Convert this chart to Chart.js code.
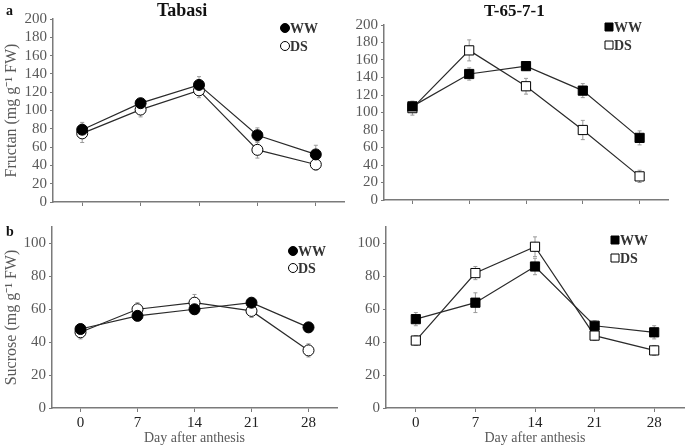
<!DOCTYPE html>
<html>
<head>
<meta charset="utf-8">
<script src="https://cdn.jsdelivr.net/npm/chart.js@4"></script>
<style>
  body { margin: 0; background: #fff; }
  #wrap { position: relative; width: 685px; height: 447px; font-family: "Liberation Serif", serif; }
  canvas { position: absolute; }
  .lbl { position: absolute; font-weight: bold; color: #111; }
</style>
</head>
<body>
<div id="wrap">
  <canvas id="chart__fru-tabasi" style="left:0;top:0" width="345" height="215"></canvas>
  <canvas id="chart__fru-t65" style="left:340px;top:0" width="345" height="215"></canvas>
  <canvas id="chart__suc-tabasi" style="left:0;top:215px" width="345" height="232"></canvas>
  <canvas id="chart__suc-t65" style="left:340px;top:215px" width="345" height="232"></canvas>
  <div class="lbl" style="left:6px;top:3px;font-size:14px">a</div>
  <div class="lbl" style="left:6px;top:224px;font-size:14px">b</div>
  <div class="lbl" style="left:157px;top:0;font-size:18px">Tabasi</div>
  <div class="lbl" style="left:484px;top:1px;font-size:17px">T-65-7-1</div>
</div>
<script>
const days = ["0", "7", "14", "21", "28"];
const fructanTicks = [0, 20, 40, 60, 80, 100, 120, 140, 160, 180, 200];
const sucroseTicks = [0, 20, 40, 60, 80, 100];

// Tabasi fructan
const fruTabWW = [79, 108, 128, 73, 52];
const fruTabWWErr = [8, 5, 9, 8, 10];
const fruTabDS = [75, 101, 122, 57, 41];
const fruTabDSErr = [10, 8, 8, 9, 6];

// T-65-7-1 fructan
const fruT65WW = [107, 144, 153, 125, 71];
const fruT65WWErr = [5, 7, 5, 8, 8];
const fruT65DS = [105, 171, 130, 80, 27];
const fruT65DSErr = [8, 12, 9, 11, 7];

// Tabasi sucrose
const sucTabWW = [48, 56, 60, 64, 49];
const sucTabWWErr = [3, 3, 3, 3, 3];
const sucTabDS = [46, 60, 64, 59, 35];
const sucTabDSErr = [4, 4, 5, 4, 4];

// T-65-7-1 sucrose
const sucT65WW = [54, 64, 86, 50, 46];
const sucT65WWErr = [4, 6, 5, 3, 4];
const sucT65DS = [41, 82, 98, 44, 35];
const sucT65DSErr = [3, 4, 6, 3, 3];

const serif = "'Liberation Serif', 'Times New Roman', serif";
const axisGray = "#7a7a7a";
const textGray = "#595959";

// vertical error bars, drawn under the markers
const errorBars = {
  id: "errorBars",
  beforeDatasetsDraw(chart) {
    const { ctx, scales } = chart;
    ctx.save();
    ctx.strokeStyle = "#9a9a9a";
    ctx.lineWidth = 1;
    chart.data.datasets.forEach((ds) => {
      ds.data.forEach((v, i) => {
        const x = scales.x.getPixelForValue(i);
        const top = scales.y.getPixelForValue(v + ds.err[i]);
        const bot = scales.y.getPixelForValue(v - ds.err[i]);
        ctx.beginPath();
        ctx.moveTo(x, top);
        ctx.lineTo(x, bot);
        ctx.moveTo(x - 2, top);
        ctx.lineTo(x + 2, top);
        ctx.moveTo(x - 2, bot);
        ctx.lineTo(x + 2, bot);
        ctx.stroke();
      });
    });
    ctx.restore();
  },
};

// small legend inside the plot
const boxLegend = {
  id: "boxLegend",
  afterDraw(chart, args, opts) {
    const { ctx } = chart;
    ctx.save();
    chart.data.datasets.forEach((ds, i) => {
      const x = opts.x;
      const y = opts.y + i * opts.gap;
      ctx.fillStyle = ds.pointBackgroundColor;
      ctx.strokeStyle = "#000";
      ctx.lineWidth = 1;
      ctx.beginPath();
      if (ds.pointStyle === "rect") {
        ctx.rect(x - 4, y - 4, 8, 8);
      } else {
        ctx.arc(x, y, 4.5, 0, Math.PI * 2);
      }
      ctx.fill();
      ctx.stroke();
      ctx.fillStyle = "#333";
      ctx.font = "bold 14px " + serif;
      ctx.textBaseline = "middle";
      ctx.fillText(ds.label, x + 5, y + 1);
    });
    ctx.restore();
  },
};

function makePanel(el, cfg) {
  const mk = (label, data, err, fill) => ({
    label: label,
    data: data,
    err: err,
    borderColor: "#2a2a2a",
    borderWidth: 1.2,
    pointStyle: cfg.shape,
    pointRadius: cfg.shape === "rect" ? 6.5 : 5.5,
    pointBackgroundColor: fill,
    pointBorderColor: "#000",
    pointBorderWidth: 1,
    tension: 0,
  });
  return new Chart(document.getElementById(el), {
    type: "line",
    data: {
      labels: days,
      datasets: [
        mk("WW", cfg.ww, cfg.wwErr, "#000"),
        mk("DS", cfg.ds, cfg.dsErr, "#fff"),
      ],
    },
    plugins: [errorBars, boxLegend],
    options: {
      responsive: false,
      animation: false,
      layout: { autoPadding: false, padding: cfg.pad },
      plugins: {
        legend: { display: false },
        tooltip: { enabled: false },
        boxLegend: cfg.legend,
      },
      scales: {
        x: {
          offset: true,
          grid: { drawOnChartArea: false, tickLength: 4, color: axisGray },
          border: { color: axisGray, width: 1.5 },
          ticks: {
            display: cfg.xLabels,
            color: "#222",
            padding: 2,
            font: { family: serif, size: 15 },
            maxRotation: 0,
          },
          title: {
            display: cfg.xLabels,
            text: "Day after anthesis",
            color: textGray,
            padding: { top: 0, bottom: 0 },
            font: { family: serif, size: 14 },
          },
          afterFit: (s) => { s.height = cfg.xHeight; },
        },
        y: {
          min: 0,
          max: cfg.yMax,
          grid: { drawOnChartArea: false, tickLength: 3, color: axisGray },
          border: { color: axisGray, width: 1.5 },
          ticks: {
            color: textGray,
            padding: 3,
            autoSkip: false,
            font: { family: serif, size: 15 },
          },
          afterBuildTicks: (s) => { s.ticks = cfg.yTicks.map((v) => ({ value: v })); },
          title: {
            display: !!cfg.yTitle,
            text: cfg.yTitle,
            color: textGray,
            padding: { top: 2, bottom: 0 },
            font: { family: serif, size: 16 },
          },
          afterFit: (s) => { s.width = cfg.yWidth; },
        },
      },
    },
  });
}

makePanel("chart__fru-tabasi", {
  shape: "circle", ww: fruTabWW, wwErr: fruTabWWErr, ds: fruTabDS, dsErr: fruTabDSErr,
  yMax: 200, yTicks: fructanTicks, yTitle: "Fructan (mg g\u207B\u00B9 FW)",
  pad: { left: 0, top: 19, right: 0, bottom: 0 }, yWidth: 53, xHeight: 13, xLabels: false,
  legend: { x: 285, y: 28, gap: 18 },
});
makePanel("chart__fru-t65", {
  shape: "rect", ww: fruT65WW, wwErr: fruT65WWErr, ds: fruT65DS, dsErr: fruT65DSErr,
  yMax: 200, yTicks: fructanTicks, yTitle: "",
  pad: { left: 0, top: 25, right: 17, bottom: 0 }, yWidth: 44, xHeight: 15, xLabels: false,
  legend: { x: 269, y: 27, gap: 18 },
});
makePanel("chart__suc-tabasi", {
  shape: "circle", ww: sucTabWW, wwErr: sucTabWWErr, ds: sucTabDS, dsErr: sucTabDSErr,
  yMax: 110, yTicks: sucroseTicks, yTitle: "Sucrose (mg g\u207B\u00B9 FW)",
  pad: { left: 0, top: 7, right: 8, bottom: 0 }, yWidth: 52, xHeight: 39, xLabels: true,
  legend: { x: 293, y: 36, gap: 17 },
});
makePanel("chart__suc-t65", {
  shape: "rect", ww: sucT65WW, wwErr: sucT65WWErr, ds: sucT65DS, dsErr: sucT65DSErr,
  yMax: 110, yTicks: sucroseTicks, yTitle: "",
  pad: { left: 0, top: 7, right: 1, bottom: 0 }, yWidth: 46, xHeight: 39, xLabels: true,
  legend: { x: 275, y: 25, gap: 18 },
});
</script>
</body>
</html>
